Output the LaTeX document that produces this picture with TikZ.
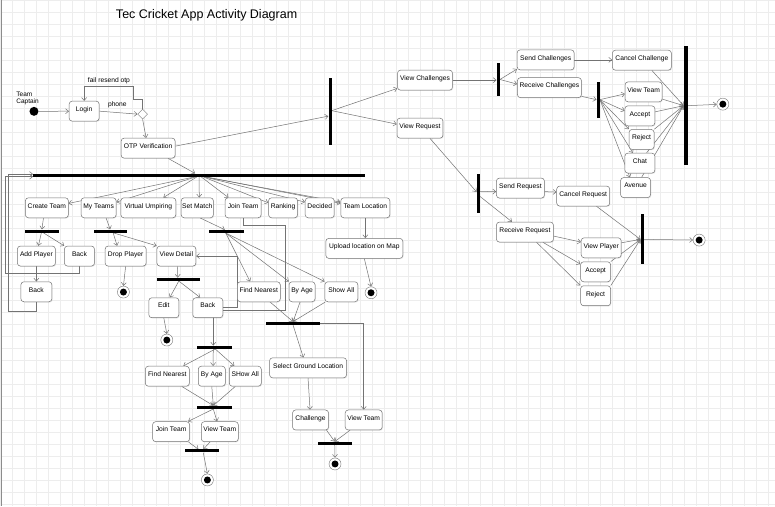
\documentclass[tikz,border=0pt]{standalone}
\usepackage{fontspec}
\setmainfont{Liberation Sans}
\usetikzlibrary{arrows.meta, shapes.geometric, shadows, backgrounds}

\pgfdeclarelayer{grid}
\pgfsetlayers{grid,background,main}

\begin{document}
\begin{tikzpicture}[
  x=1pt, y=-1pt,
  font=\fontsize{6.7}{7}\selectfont,
  act/.style ={draw=black!55, line width=0.5pt, rounded corners=3pt, fill=white,
               drop shadow={opacity=0.18, shadow xshift=0.8pt, shadow yshift=-0.8pt},
               minimum width=#1, minimum height=20pt, inner sep=1pt, text height=5pt, text depth=4.5pt},
  hbar/.style={fill=black, inner sep=0, minimum height=3pt, minimum width=#1},
  vbar/.style={fill=black, inner sep=0, minimum width=3pt, minimum height=#1},
  fin/.style ={circle, draw=black!55, fill=white, minimum size=12pt, inner sep=0,
               path picture={\fill[black] (path picture bounding box.center) circle (3.5pt);}},
  arr/.style ={-{Straight Barb[length=3pt,width=5pt]}, draw=black!55, line width=0.5pt},
  gridline/.style={black!7, line width=0.4pt},
]
\begin{pgfonlayer}{grid}
  \fill[white] (0,0) rectangle (775,506);
  \foreach \gx in {0,12,...,775} \draw[gridline] (\gx,0) -- (\gx,506);
  \foreach \gy in {0,12,...,506} \draw[gridline] (0,\gy) -- (775,\gy);
  \draw[black!45] (1,0) -- (1,506);
\end{pgfonlayer}

\node[font=\fontsize{12.5}{14}\selectfont] (title) at (206.5,15) {Tec Cricket App Activity Diagram};
\node[align=left, anchor=west, inner sep=0, font=\fontsize{6.5}{6.7}\selectfont] (who) at (16,98.3) {Team\\Captain};
\node[circle, fill=black, minimum size=9pt, inner sep=0] (start) at (33.8,111.2) {};
\node[act=30pt] (login) at (84,111) {Login};
\node[diamond, draw=black!55, fill=white, minimum width=10pt, minimum height=10pt, inner sep=0] (dec) at (142.5,114) {};
\node[act=54pt] (otp) at (148,148) {OTP Verification};
\node[inner sep=1pt] (phone) at (117.2,104.3) {phone};
\node[inner sep=1pt] (resend) at (108.8,80.7) {fail resend otp};

% challenges and requests
\node[vbar=67pt] (vb1) at (330,111.5) {};
\node[act=55pt] (viewch) at (425,80) {View Challenges};
\node[act=46pt] (viewrq) at (420,128) {View Request};
\node[vbar=33pt] (vb2) at (498.3,79.3) {};
\node[act=57pt] (sendch) at (545.7,59.7) {Send Challenges};
\node[act=64pt] (recvch) at (549.5,87.5) {Receive Challenges};
\node[act=59pt] (cancelch) at (642,60) {Cancel Challenge};
\node[vbar=119pt, minimum width=4pt] (vb3) at (686,105.5) {};
\node[fin] (fin1) at (723,104) {};
\node[vbar=36pt] (vb4) at (598.3,99.5) {};
\node[act=37pt] (viewteam1) at (643.7,91.7) {View Team};
\node[act=30pt] (accept1) at (640,115.7) {Accept};
\node[act=25pt] (reject1) at (641.7,139.3) {Reject};
\node[act=30pt] (chat) at (640,163) {Chat};
\node[act=30pt] (avenue) at (635.7,187.5) {Avenue};
\node[vbar=39pt] (vb5) at (478.3,193.3) {};
\node[act=48pt] (sendrq) at (520.5,188) {Send Request};
\node[act=53pt] (cancelrq) at (583.3,196) {Cancel Request};
\node[act=57pt] (recvrq) at (525,232) {Receive Request};
\node[act=40pt] (viewpl) at (601.3,247.7) {View Player};
\node[act=30pt] (accept2) at (595.7,271.7) {Accept};
\node[act=30pt] (reject2) at (595.7,295.7) {Reject};
\node[vbar=50pt] (vb6) at (642.3,239.3) {};
\node[fin] (fin2) at (699.3,240) {};

% team captain menu
\node[hbar=332pt] (hb1) at (199,175) {};
\node[act=43pt] (create) at (46.7,207.7) {Create Team};
\node[act=35pt] (myteams) at (98.5,207.7) {My Teams};
\node[act=55pt] (umpire) at (148.2,207.7) {Virtual Umpiring};
\node[act=32pt] (setmatch) at (197.2,207.7) {Set Match};
\node[act=36pt] (jointeam) at (243,207.7) {Join Team};
\node[act=29pt] (ranking) at (283,207.7) {Ranking};
\node[act=29pt] (decided) at (319.7,207.7) {Decided};
\node[act=49pt] (teamloc) at (365.3,207.7) {Team Location};
\node[hbar=34pt] (hb2) at (42.2,231) {};
\node[act=38pt] (addpl) at (36.2,256) {Add Player};
\node[act=30pt] (back1) at (79.3,256) {Back};
\node[act=31pt] (back2) at (36.2,291.7) {Back};
\node[hbar=33pt] (hb3) at (110,231) {};
\node[act=41pt] (droppl) at (125.5,256) {Drop Player};
\node[act=39pt] (viewdet) at (176.3,256) {View Detail};
\node[fin] (fin3) at (123.3,292) {};
\node[hbar=43pt] (hb4) at (178.7,279.3) {};
\node[act=30pt] (edit) at (163.7,307.7) {Edit};
\node[act=30pt] (back3) at (207.7,307.7) {Back};
\node[fin] (fin4) at (166.7,340) {};
\node[hbar=35pt] (hb5) at (226.7,231.3) {};
\node[act=43pt] (findn1) at (258.7,291.7) {Find Nearest};
\node[act=26pt] (byage1) at (302,291.7) {By Age};
\node[act=33pt] (showall1) at (341.3,291.7) {Show All};
\node[hbar=54pt] (hb6) at (293,323.3) {};
\node[act=77pt] (selground) at (308,367.8) {Select Ground Location};
\node[act=36pt] (challenge) at (310.5,420) {Challenge};
\node[act=37pt] (viewteam3) at (363.7,420) {View Team};
\node[hbar=34pt] (hb7) at (334.7,443.3) {};
\node[fin] (fin5) at (335,464) {};
\node[hbar=35pt] (hb8) at (214.2,347.3) {};
\node[act=44pt] (findn2) at (167.2,376.2) {Find Nearest};
\node[act=27pt] (byage2) at (211.7,376.2) {By Age};
\node[act=32pt] (showall2) at (245.2,376.2) {SHow All};
\node[hbar=35pt] (hb9) at (214.2,407.3) {};
\node[act=37pt] (jointeam2) at (171,431.7) {Join Team};
\node[act=37pt] (viewteam2) at (219.7,431.7) {View Team};
\node[hbar=34pt] (hb10) at (202.2,451) {};
\node[fin] (fin6) at (207.3,480) {};
\node[act=77pt] (upload) at (364.3,248.3) {Upload location on Map};
\node[fin] (fin7) at (371,292.7) {};

\coordinate (lp1) at (4.7,273);
\coordinate (lp2) at (8.3,311);
\coordinate (lp4) at (285,225);
\coordinate (lp5) at (285,310);

\begin{scope}[on background layer]
  \draw[arr] (start) -- (login);
  \draw[arr] (login.east) -- (dec.west);
  \draw[arr] (dec.north) -- ++(0,-10) -- ++(-9.3,0) -- ++(0,-12.7) -| (login.north);
  \draw[arr] (dec.south) -- ([xshift=-2pt]otp.north);
  \draw[arr] ([xshift=20pt]otp.south) -- ([xshift=-4pt]hb1.north);
  \draw[arr] ([yshift=2pt]otp.east) -- ([yshift=-4.5pt]vb1.west);
  % right branch
  \draw[arr] ([yshift=1pt]vb1.east) -- ([yshift=2pt]viewch.south west);
  \draw[arr] ([yshift=1pt]vb1.east) -- ([yshift=4pt]viewrq.west);
  \draw[arr] (viewch.east) -- (viewch.east -| vb2.west);
  \draw[arr] (vb2.east) -- ([yshift=1pt]sendch.south west);
  \draw[arr] (vb2.east) -- ([yshift=3.5pt]recvch.west);
  \draw[arr] (sendch.east) -- (sendch.east -| cancelch.west);
  \draw[arr] ([yshift=1.5pt]recvch.south east) -- (vb4.west);
  \foreach \t/\ex/\ey/\an in {viewteam1/0/-2/west, accept1/0/5/west, reject1/0/0/north west, chat/-7/0/north, avenue/-5.7/0/north}
    \draw[arr] (vb4.east) -- ([xshift=\ex pt, yshift=\ey pt]\t.\an);
  \foreach \s/\ex/\ey/\an in {cancelch/10/0/south, viewteam1/0/3/south east, accept1/0/4/east, reject1/0/0/north east, chat/6.7/0/north, avenue/6/0/north}
    \draw[arr] ([xshift=\ex pt, yshift=\ey pt]\s.\an) -- (vb3.west);
  \draw[arr] (vb3.east) -- (fin1);
  \draw[arr] ([xshift=10pt]viewrq.south) -- ([yshift=1.5pt]vb5.west);
  \draw[arr] ([yshift=2pt]vb5.east) -- ([yshift=-3.5pt]sendrq.west);
  \draw[arr] ([yshift=-3.5pt]sendrq.east) -- ([yshift=4pt]cancelrq.west);
  \draw[arr] ([yshift=-3pt]vb5.east) -- ([xshift=-13pt]recvrq.north);
  \draw[arr] ([yshift=-4pt]recvrq.east) -- ([yshift=5.7pt]viewpl.west);
  \draw[arr] ([xshift=18pt]recvrq.south) -- ([yshift=7.7pt]accept2.west);
  \draw[arr] ([xshift=11.7pt]recvrq.south) -- (reject2.north west);
  \foreach \s/\ex/\ey/\an in {cancelrq/13.4/0/south, viewpl/0/5/east, accept2/0/0/north east, reject2/0/0/north east}
    \draw[arr] ([xshift=\ex pt, yshift=\ey pt]\s.\an) -- (vb6.west);
  \draw[arr] (vb6.east) -- (fin2);
  % left branch
  \foreach \t/\dx/\an/\ex/\ey in {create/-4/east/0/4.4, myteams/-3/east/0/5.7, umpire/-2/north/15/0, setmatch/0/north/2/0, jointeam/2/north/-14.7/0, ranking/4/west/0/5, decided/5/west/0/5.7, teamloc/5/west/0/5.7, teamloc/6.5/west/0/4.5}
    \draw[arr] ([xshift=\dx pt]hb1.south) -- ([xshift=\ex pt, yshift=\ey pt]\t.\an);
  \draw[arr] ([xshift=-3.4pt]create.south) -- ([xshift=-0.5pt]hb2.north);
  \draw[arr] ([xshift=-1pt]hb2.south) -- ([xshift=2pt]addpl.north);
  \draw[arr] ([xshift=1pt]hb2.south) -- (back1.north west);
  \draw[arr] (addpl.south) -- (back2.north);
  \draw[arr] (back1.south) |- (lp1) |- ([yshift=-1.5pt]hb1.west);
  \draw[arr] (back2.south) |- (lp2) |- ([yshift=1pt]hb1.west);
  \draw[arr] ([xshift=7.5pt]myteams.south) -- (hb3.north);
  \draw[arr] ([xshift=3pt]hb3.south) -- ([xshift=-8.5pt]droppl.north);
  \draw[arr] ([xshift=3pt]hb3.south) -- (viewdet.north west);
  \draw[arr] (droppl.south) -- (fin3.north);
  \draw[arr] ([xshift=1pt]viewdet.south) -- ([xshift=-1pt]hb4.north);
  \draw[arr] (hb4.south) -- ([xshift=6pt]edit.north);
  \draw[arr] (hb4.south) -- ([xshift=-7.7pt]back3.north);
  \draw[arr] (edit.south) -- (fin4.north);
  \draw[arr] (back3.east) -| ([xshift=40.8pt]viewdet.east) -- (viewdet.east);
  \draw[arr] ([xshift=3pt]setmatch.south) -- ([xshift=-2pt]hb5.north);
  \draw[arr] ([xshift=-1pt]hb5.south) -- ([xshift=-8.7pt]findn1.north);
  \draw[arr] ([xshift=-1pt]hb5.south) -- (byage1.north west);
  \draw[arr] ([xshift=-1pt]hb5.south) -- (showall1.north west);
  \draw[arr] ([xshift=11.3pt]findn1.south) -- (hb6.north);
  \draw[arr] ([xshift=-2pt]byage1.south) -- (hb6.north);
  \draw[arr] ([xshift=-16pt]showall1.south) -- (hb6.north);
  \draw[arr] (jointeam.south) |- (lp4) -- (lp5) -| ([xshift=-1pt]hb8.north);
  \draw[arr] ([xshift=1pt]hb8.south) -- ([xshift=16pt]findn2.north);
  \draw[arr] ([xshift=-1pt]hb8.south) -- ([xshift=1.3pt]byage2.north);
  \draw[arr] ([xshift=1pt]hb8.south) -- ([xshift=-11pt]showall2.north);
  \draw[arr] ([xshift=14.5pt]findn2.south) -- ([xshift=-1pt]hb9.north);
  \draw[arr] (byage2.south) -- ([xshift=-1pt]hb9.north);
  \draw[arr] ([xshift=-10pt]showall2.south) -- ([xshift=-1pt]hb9.north);
  \draw[arr] ([xshift=-1pt]hb9.south) -- ([xshift=17pt]jointeam2.north);
  \draw[arr] ([xshift=-1pt]hb9.south) -- ([xshift=-2.7pt]viewteam2.north);
  \draw[arr] ([xshift=17.3pt]jointeam2.south) -- ([xshift=-3.9pt]hb10.north);
  \draw[arr] ([xshift=-9.7pt]viewteam2.south) -- ([xshift=1pt]hb10.north);
  \draw[arr] ([xshift=1pt]hb10.south) -- (fin6.north);
  \draw[arr] (hb6.south) -- ([xshift=-4.7pt]selground.north);
  \draw[arr] (hb6.east) -| (viewteam3.north);
  \draw[arr] (selground.south) -- ([xshift=-0.5pt]challenge.north);
  \draw[arr] ([xshift=16pt]challenge.south) -- (hb7.north);
  \draw[arr] ([xshift=-13.7pt]viewteam3.south) -- (hb7.north);
  \draw[arr] (hb7.south) -- (fin5.north);
  \draw[arr] (teamloc.south) -- (teamloc.south |- upload.north);
  \draw[arr] (upload.south) -- (fin7.north);
\end{scope}
\end{tikzpicture}
\end{document}
